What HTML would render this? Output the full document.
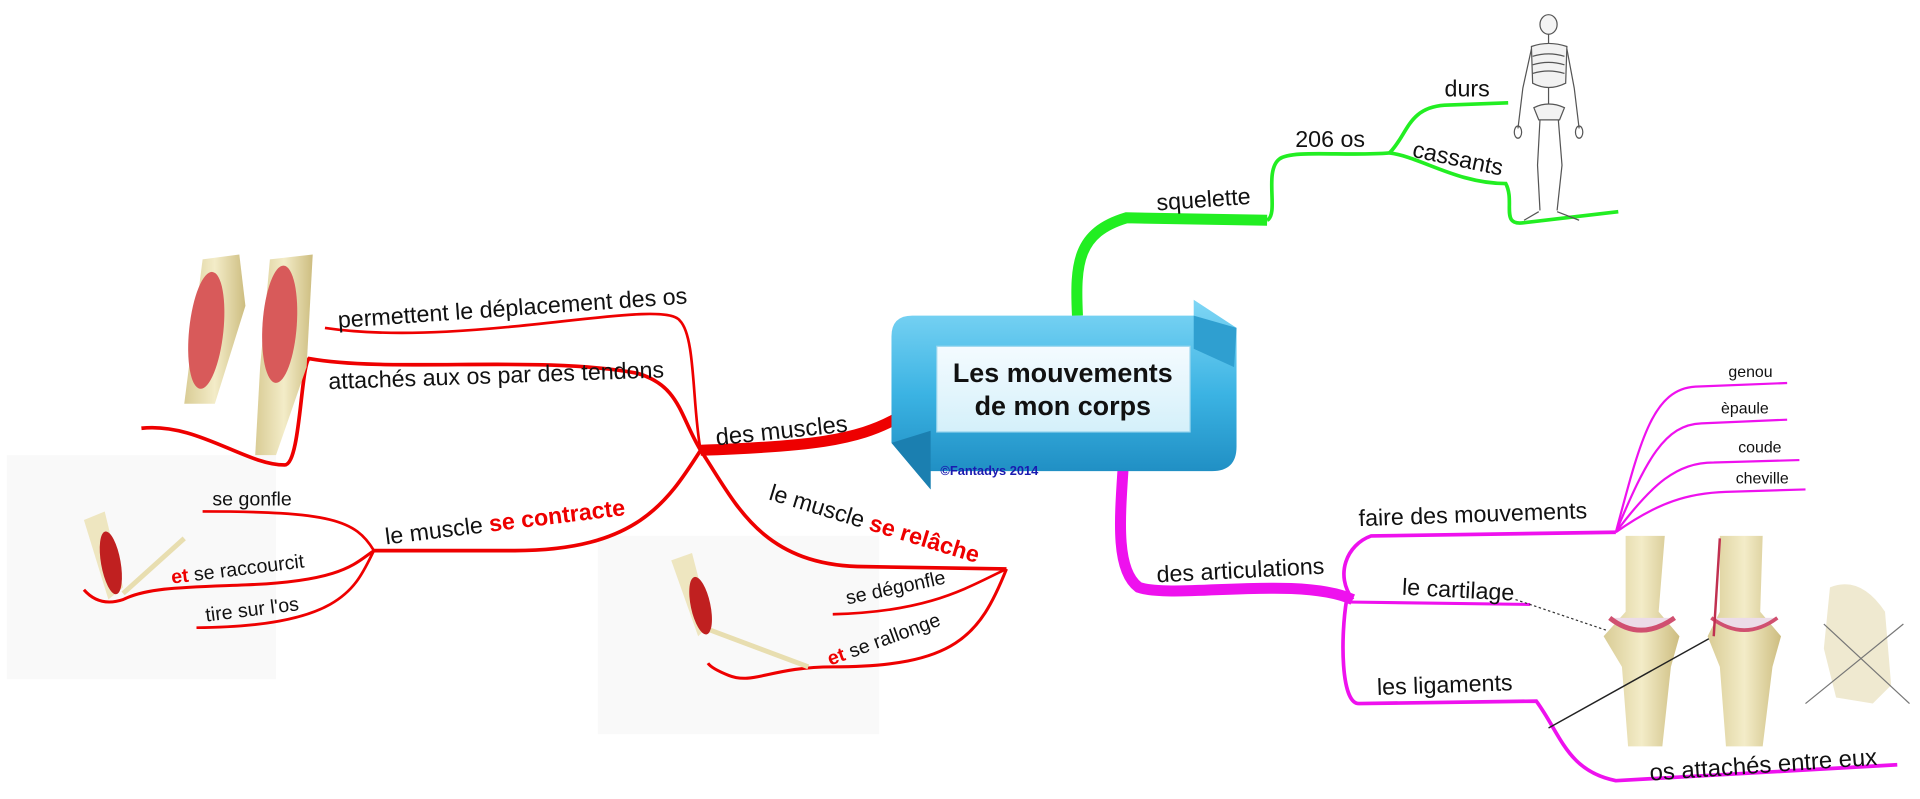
<!DOCTYPE html>
<html><head><meta charset="utf-8"><style>
html,body{margin:0;padding:0;background:#fff;width:1920px;height:799px;overflow:hidden}
svg{display:block}
text{font-family:"Liberation Sans",Arial,sans-serif;fill:#111}
</style></head><body>
<svg width="1920" height="799" viewBox="0 0 1568 653" xmlns="http://www.w3.org/2000/svg">
<defs>
<linearGradient id="bl" x1="0" y1="0" x2="0" y2="1"><stop offset="0" stop-color="#7fd6f5"/><stop offset="0.5" stop-color="#3bb3e3"/><stop offset="1" stop-color="#1a87bd"/></linearGradient>
<linearGradient id="inn" x1="0" y1="0" x2="0" y2="1"><stop offset="0" stop-color="#f4fbff"/><stop offset="1" stop-color="#d4f0fa"/></linearGradient>
<linearGradient id="bone" x1="0" y1="0" x2="1" y2="0"><stop offset="0" stop-color="#d9cc95"/><stop offset="0.5" stop-color="#f3ecc8"/><stop offset="1" stop-color="#cdbd80"/></linearGradient>
</defs>

<rect x="5" y="372" width="220" height="183" fill="#f9f9f9"/>
<rect x="488" y="438" width="230" height="162" fill="#f9f9f9"/>

<!-- GREEN -->
<path d="M880 258 C878 215,880 190,920 178 L1035 180" stroke="#22ee22" stroke-width="9" fill="none"/>
<path d="M1035 180 C1045 175,1032 140,1045 130 C1055 122,1100 128,1135 125" stroke="#22ee22" stroke-width="3" fill="none"/>
<path d="M1135 125 C1150 110,1150 88,1180 86 L1232 84" stroke="#22ee22" stroke-width="3" fill="none"/>
<path d="M1135 125 C1160 128,1190 150,1230 150 C1238 165,1225 185,1245 182 L1322 173" stroke="#22ee22" stroke-width="3" fill="none"/>
<text x="945" y="172" font-size="19" transform="rotate(-4 945 172)">squelette</text>
<text x="1058" y="120" font-size="19">206 os</text>
<text x="1180" y="79" font-size="19">durs</text>
<text x="1153" y="128" font-size="19" transform="rotate(12 1153 128)">cassants</text>
<!-- skeleton -->
<g stroke="#555" stroke-width="1" fill="none">
<ellipse cx="1265" cy="20" rx="7" ry="8" fill="#f4f4f4"/>
<path d="M1265 28 L1265 88"/>
<path d="M1251 38 Q1265 33,1280 38 L1279 68 Q1265 75,1252 68 Z" fill="#f2f2f2"/>
<path d="M1252 46 Q1265 42,1278 46 M1252 53 Q1265 49,1278 53 M1252 60 Q1265 56,1278 60"/>
<path d="M1251 40 L1244 72 L1240 105 M1280 40 L1286 72 L1290 105"/>
<path d="M1253 88 Q1265 82,1278 88 L1274 98 L1257 98 Z" fill="#f2f2f2"/>
<path d="M1258 98 L1256 135 L1258 172 M1273 98 L1276 135 L1272 172"/>
<path d="M1257 173 L1245 180 M1272 173 L1290 180"/>
<ellipse cx="1240" cy="108" rx="3" ry="5"/><ellipse cx="1290" cy="108" rx="3" ry="5"/>
</g>

<!-- MAGENTA -->
<path d="M918 372 C915 420,910 465,930 480 C960 490,1060 470,1105 490" stroke="#ee11ee" stroke-width="9" fill="none"/>
<path d="M1105 490 C1090 470,1100 445,1120 438 L1320 435" stroke="#ee11ee" stroke-width="3" fill="none"/>
<path d="M1100 492 L1250 494" stroke="#ee11ee" stroke-width="2.5" fill="none"/>
<path d="M1100 490 C1095 520,1095 575,1110 575 L1255 573 C1275 600,1280 630,1320 638 L1550 625" stroke="#ee11ee" stroke-width="3" fill="none"/>
<g stroke="#ee11ee" stroke-width="1.8" fill="none">
<path d="M1320 435 C1340 360,1350 318,1385 316 L1460 313"/>
<path d="M1320 435 C1345 375,1360 347,1390 346 L1460 343"/>
<path d="M1320 435 C1350 395,1370 378,1400 378 L1470 376"/>
<path d="M1320 435 C1355 410,1380 403,1410 402 L1475 400"/>
</g>
<text x="945" y="476" font-size="19" transform="rotate(-3 945 476)">des articulations</text>
<text x="1110" y="430" font-size="19" transform="rotate(-2 1110 430)">faire des mouvements</text>
<text x="1145" y="486" font-size="19" transform="rotate(3 1145 486)">le cartilage</text>
<text x="1125" y="568" font-size="19" transform="rotate(-2 1125 568)">les ligaments</text>
<text x="1348" y="638" font-size="19.5" transform="rotate(-4 1348 638)">os attachés entre eux</text>
<text x="1412" y="308" font-size="13">genou</text>
<text x="1406" y="338" font-size="13">èpaule</text>
<text x="1420" y="370" font-size="13">coude</text>
<text x="1418" y="395" font-size="13">cheville</text>
<!-- knees -->
<g>
<path d="M1328 438 L1360 438 L1355 500 L1372 520 L1365 545 L1358 610 L1330 610 L1325 545 L1310 520 L1328 500 Z" fill="url(#bone)"/>
<path d="M1405 438 L1440 438 L1438 500 L1455 520 L1448 545 L1440 610 L1410 610 L1405 545 L1395 520 L1405 500 Z" fill="url(#bone)"/>
<path d="M1315 505 Q1340 525,1368 505" stroke="#d05070" stroke-width="4" fill="#ecdce8"/>
<path d="M1398 505 Q1425 525,1452 505" stroke="#d05070" stroke-width="3" fill="#ecdce8"/>
<path d="M1405 440 L1400 520" stroke="#c03050" stroke-width="2"/>
<path d="M1495 480 Q1520 470,1540 500 L1545 560 L1530 575 L1500 570 L1490 530 Z" fill="#efe9d0"/>
<path d="M1475 575 L1555 510 M1490 510 L1560 575" stroke="#777" stroke-width="1"/>
</g>
<path d="M1238 490 L1312 515" stroke="#333" stroke-width="1" stroke-dasharray="2 2"/>
<path d="M1265 595 L1396 522" stroke="#222" stroke-width="1.2"/>

<!-- RED -->
<path d="M732 342 C700 360,660 365,572 368" stroke="#ee0000" stroke-width="9" fill="none"/>
<g stroke="#ee0000" fill="none">
<path d="M572 368 C565 330,568 275,555 262 C540 242,380 285,265 268" stroke-width="2.2"/>
<path d="M572 368 C555 340,555 315,520 305 C440 290,320 305,252 293 C245 300,245 380,232 380 C200 380,160 345,115 350" stroke-width="3"/>
<path d="M572 368 C545 410,520 450,420 450 L305 450" stroke-width="3"/>
<path d="M305 450 C290 425,270 418,165 418" stroke-width="2.2"/>
<path d="M305 450 C290 460,280 475,200 478 C150 480,120 480,100 490 C85 495,75 490,68 482" stroke-width="2.5"/>
<path d="M305 450 C290 480,280 512,160 513" stroke-width="2.2"/>
<path d="M572 368 C600 410,620 460,700 463 L822 465" stroke-width="3"/>
<path d="M822 465 C790 480,760 500,680 502" stroke-width="2.2"/>
<path d="M822 465 C800 520,780 545,680 545 C630 545,615 560,595 552 C585 548,580 545,578 542" stroke-width="2.5"/>
</g>
<text x="585" y="364" font-size="19.5" transform="rotate(-6 585 364)">des muscles</text>
<text x="276" y="268" font-size="19" transform="rotate(-4 276 268)">permettent le déplacement des os</text>
<text x="268" y="318" font-size="19" transform="rotate(-2 268 318)">attachés aux os par des tendons</text>
<text x="315" y="445" font-size="19" transform="rotate(-7 315 445)">le muscle <tspan font-weight="bold" fill="#ee0000">se contracte</tspan></text>
<text x="627" y="408" font-size="19" transform="rotate(17 627 408)">le muscle <tspan font-weight="bold" fill="#ee0000">se relâche</tspan></text>
<text x="173" y="413" font-size="16">se gonfle</text>
<text x="140" y="477" font-size="16" transform="rotate(-7 140 477)"><tspan font-weight="bold" fill="#ee0000">et</tspan> se raccourcit</text>
<text x="168" y="508" font-size="16" transform="rotate(-7 168 508)">tire sur l'os</text>
<text x="692" y="494" font-size="16" transform="rotate(-12 692 494)">se dégonfle</text>
<text x="678" y="544" font-size="16" transform="rotate(-20 678 544)"><tspan font-weight="bold" fill="#ee0000">et</tspan> se rallonge</text>
<!-- muscle arms -->
<g>
<path d="M165 212 L195 208 L200 250 L175 330 L150 330 Z" fill="url(#bone)"/>
<ellipse cx="168" cy="270" rx="14" ry="48" fill="#d85a5a" transform="rotate(6 168 270)"/>
<path d="M220 212 L255 208 L250 300 L225 372 L208 372 L212 300 Z" fill="url(#bone)"/>
<ellipse cx="228" cy="265" rx="14" ry="48" fill="#d85a5a" transform="rotate(4 228 265)"/>
<path d="M68 425 L85 418 L100 480 L88 490 Z" fill="#eee6c0"/>
<ellipse cx="90" cy="460" rx="8" ry="26" fill="#c02020" transform="rotate(-10 90 460)"/>
<path d="M100 485 L150 440" stroke="#e8deb0" stroke-width="4"/>
<path d="M548 458 L565 452 L580 510 L570 520 Z" fill="#eee6c0"/>
<ellipse cx="572" cy="495" rx="8" ry="24" fill="#c02020" transform="rotate(-12 572 495)"/>
<path d="M580 515 L660 545" stroke="#e8deb0" stroke-width="4"/>
</g>

<!-- CENTRAL -->
<path d="M745 258 L975 258 L975 245 L1010 268 L1010 365 Q1010 385,990 385 L760 385 L760 400 L728 362 L728 275 Q728 258,745 258 Z" fill="url(#bl)"/>
<path d="M975 258 L1010 268 L1008 300 L975 285 Z" fill="#2f9fd0"/>
<path d="M728 362 L760 352 L760 400 Z" fill="#1b7fb0"/>
<rect x="765" y="283" width="207" height="70" fill="url(#inn)" stroke="#9ad6ee"/>
<text x="868" y="312" font-size="22" font-weight="bold" text-anchor="middle" fill="#1a1a1a">Les mouvements</text>
<text x="868" y="339" font-size="22" font-weight="bold" text-anchor="middle" fill="#1a1a1a">de mon corps</text>
<text x="768" y="388" font-size="10.5" font-weight="bold" style="fill:#1a1ab0">©Fantadys 2014</text>
</svg>
</body></html>
